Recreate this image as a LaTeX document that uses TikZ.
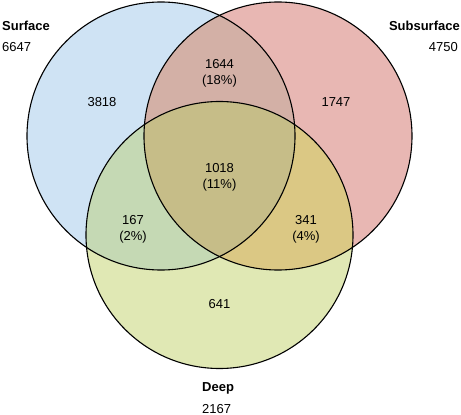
\documentclass[tikz,border=0pt]{standalone}
\usepackage{fontspec}
\setmainfont{Liberation Sans}
\definecolor{cA}{HTML}{CFE3F4}
\definecolor{cB}{HTML}{E8B7B3}
\definecolor{cC}{HTML}{E0E8B4}
\definecolor{cAB}{HTML}{D3B0A6}
\definecolor{cAC}{HTML}{C5D9B4}
\definecolor{cBC}{HTML}{DBC884}
\definecolor{cABC}{HTML}{C6BD88}
\begin{document}
\begin{tikzpicture}[x=1pt,y=-1pt,
  lbl/.style={font=\fontsize{13}{16}\selectfont, inner sep=0pt},
  ttl/.style={font=\fontsize{13}{16}\selectfont\bfseries, inner sep=0pt},
  outline/.style={draw=black, line width=1.1pt}]
\useasboundingbox (0,0) rectangle (461,415);
\def\rA{134}
\coordinate (A) at (161,136);
\coordinate (B) at (278,136);
\coordinate (C) at (219.5,235);
% fills
\fill[cA] (A) circle (\rA);
\fill[cB] (B) circle (\rA);
\fill[cC] (C) circle (133.5);
\begin{scope}\clip (A) circle (\rA); \fill[cAB] (B) circle (\rA); \end{scope}
\begin{scope}\clip (A) circle (\rA); \fill[cAC] (C) circle (133.5); \end{scope}
\begin{scope}\clip (B) circle (\rA); \fill[cBC] (C) circle (133.5); \end{scope}
\begin{scope}\clip (A) circle (\rA); \clip (B) circle (\rA); \fill[cABC] (C) circle (133.5); \end{scope}
% outlines
\draw[outline] (A) circle (\rA);
\draw[outline] (B) circle (\rA);
\draw[outline] (C) circle (133.5);
% titles
\node[ttl, anchor=west] (tA) at (2,26) {Surface};
\node[lbl, anchor=west] (nA) at (2,47) {6647};
\node[ttl, anchor=east] (tB) at (460,26) {Subsurface};
\node[lbl, anchor=east] (nB) at (458,47) {4750};
\node[ttl, anchor=west] (tC) at (202,388) {Deep};
\node[lbl, anchor=west] (nC) at (202,409) {2167};
% region counts
\node[lbl] (a) at (102,102) {3818};
\node[lbl] (b) at (336,102) {1747};
\node[lbl] (c) at (219.5,304) {641};
\node[lbl, align=center] (ab) at (219.5,73) {1644\\(18\%)};
\node[lbl, align=center] (abc) at (219.5,177) {1018\\(11\%)};
\node[lbl, align=center] (ac) at (133,229) {167\\(2\%)};
\node[lbl, align=center] (bc) at (306,229) {341\\(4\%)};
\end{tikzpicture}
\end{document}
